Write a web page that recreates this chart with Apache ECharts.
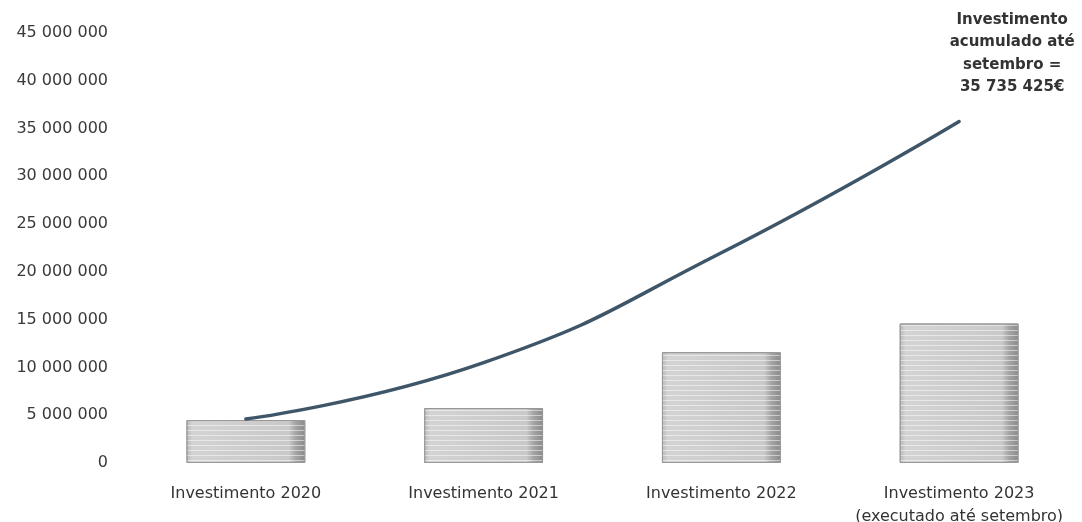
<!DOCTYPE html>
<html>
<head>
<meta charset="utf-8">
<script src="https://cdn.jsdelivr.net/npm/echarts@6/dist/echarts.min.js"></script>
<style>
html,body{margin:0;padding:0;background:#fff;}
#c{width:1082px;height:522px;}
</style>
</head>
<body>
<div id="c"></div>
<script>
// ---- data ----
const categories = ['Investimento 2020', 'Investimento 2021', 'Investimento 2022', 'Investimento 2023\n(executado até setembro)'];
const annualInvestment = [4500000, 5750000, 11600000, 14600000];
const cumulativeInvestment = [4600000, 10500000, 22000000, 35735425];
const yTicks = [0, 5000000, 10000000, 15000000, 20000000, 25000000, 30000000, 35000000, 40000000, 45000000];
const annotationLines = ['Investimento', 'acumulado até', 'setembro ='];

function fmt(v) {
  return String(Math.round(v)).replace(/\B(?=(\d{3})+(?!\d))/g, ' ');
}

const chart = echarts.init(document.getElementById('c'));
chart.setOption({
  backgroundColor: '#ffffff',
  animation: false,
  grid: { left: 127, right: 4, top: 33, bottom: 59, containLabel: false, outerBoundsMode: 'none' },
  xAxis: {
    type: 'category',
    data: categories,
    axisLine: { show: false },
    axisTick: { show: false },
    axisLabel: {
      color: '#333333',
      fontFamily: 'DejaVu Sans',
      fontSize: 16,
      lineHeight: 23,
      margin: 19,
      interval: 0
    }
  },
  yAxis: {
    type: 'value',
    min: yTicks[0],
    max: yTicks[yTicks.length - 1],
    interval: yTicks[1] - yTicks[0],
    splitLine: { show: false },
    axisLine: { show: false },
    axisTick: { show: false },
    axisLabel: {
      color: '#3a3a3a',
      fontFamily: 'DejaVu Sans',
      fontSize: 16,
      margin: 19,
      formatter: fmt
    }
  },
  series: [
    {
      type: 'bar',
      data: annualInvestment,
      barWidth: '50%',
      itemStyle: {
        color: new echarts.graphic.LinearGradient(0, 0, 1, 0, [
          { offset: 0, color: '#b9b9b9' },
          { offset: 0.05, color: '#d3d3d3' },
          { offset: 0.86, color: '#c9c9c9' },
          { offset: 0.92, color: '#a4a4a4' },
          { offset: 1, color: '#8a8a8a' }
        ]),
        borderColor: '#999999',
        borderWidth: 1,
        decal: {
          symbol: 'rect',
          symbolSize: 1,
          color: 'rgba(255,255,255,0.5)',
          dashArrayX: [1, 0],
          dashArrayY: [1, 4],
          rotation: 0
        }
      }
    },
    {
      type: 'line',
      data: cumulativeInvestment.map((v, i) => i === cumulativeInvestment.length - 1 ? {
        value: v,
        symbol: 'circle',
        symbolSize: 2,
        itemStyle: { color: 'rgba(0,0,0,0)', borderWidth: 0 },
        label: {
          show: true,
          position: 'top',
          distance: 22,
          offset: [53, 0],
          align: 'center',
          color: '#333333',
          fontFamily: 'DejaVu Sans',
          fontWeight: 'bold',
          fontSize: 15,
          lineHeight: 22.5,
          formatter: () => annotationLines.join('\n') + '\n' + fmt(v) + '€'
        }
      } : { value: v, symbol: 'none' }),
      smooth: 0.5,
      showSymbol: true,
      lineStyle: { color: '#3f5669', width: 3.5, cap: 'round' },
      z: 5
    }
  ]
});
</script>
</body>
</html>
